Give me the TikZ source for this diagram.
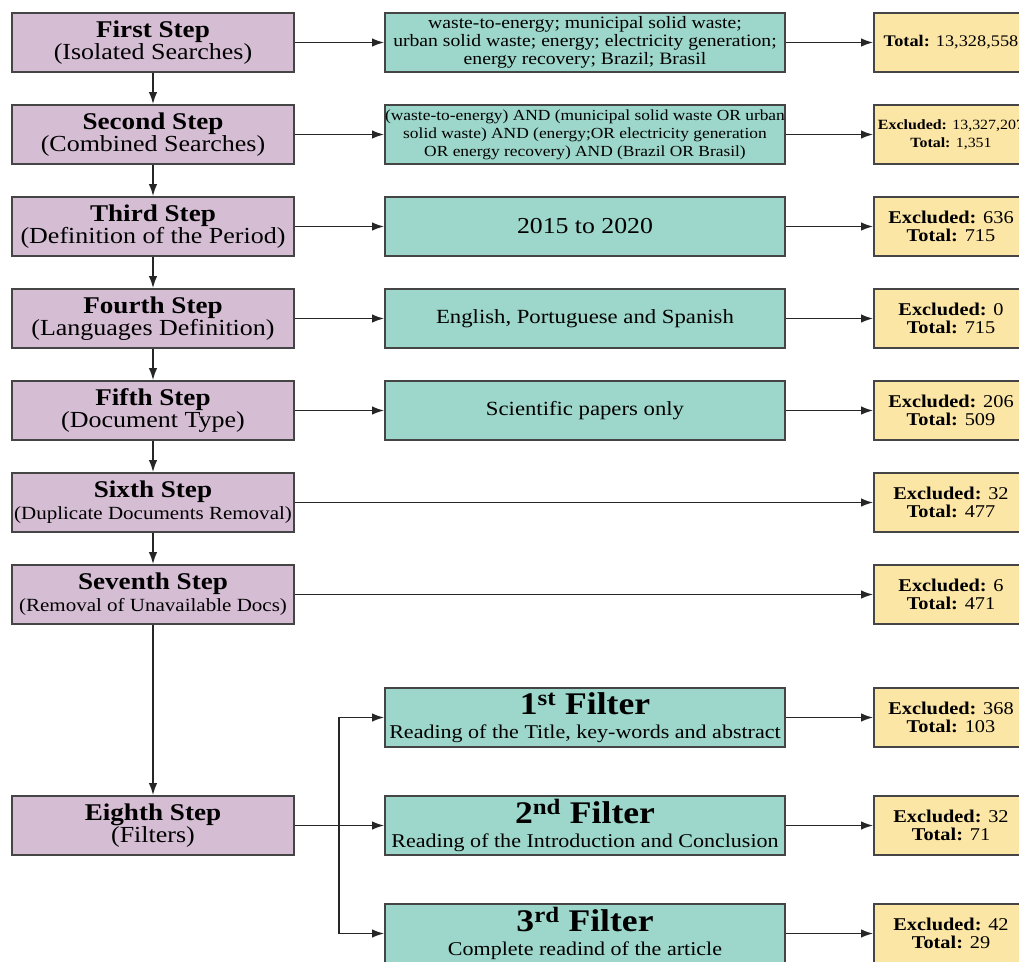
\documentclass[tikz,border=0pt]{standalone}
\usepackage{fontspec}
\setmainfont{Liberation Serif}[FakeStretch=1.13]
\usepackage{xcolor}
\usepackage{tikz}
\usetikzlibrary {positioning}
\usetikzlibrary{arrows.meta}
\definecolor{stepfill}{HTML}{D5BDD4}
\definecolor{queryfill}{HTML}{9DD6CA}
\definecolor{countfill}{HTML}{FCE6A5}
\definecolor{rim}{HTML}{454545}
\tikzset{edge/.style = {->,> = {Latex[length=12pt,width=8.5pt]}, line width=1.5pt, color=black!85}}

\begin{document}
\begin{tikzpicture}[x=1pt,y=-1pt,node distance=92pt,
    box/.style={draw=rim,line width=1.8pt,inner sep=0pt,minimum height=59pt,align=center},
    step node/.style={box,fill=stepfill,minimum width=282pt,font=\fontsize{23}{22}\selectfont},
    query node/.style={box,fill=queryfill,minimum width=400pt},
    count node/.style={box,fill=countfill,minimum width=154pt,font=\fontsize{18}{18}\selectfont},
    filter node/.style={box,fill=queryfill,minimum width=400pt,font=\fontsize{19.5}{24}\selectfont}]
                \useasboundingbox (0,0) rectangle (1019,961);
                \clip (0,0) rectangle (1019,961);

                % steps
                \node[step node] (s1) at (153,42.5) {\textbf{\fontsize{24}{22}\selectfont First Step}\\(Isolated Searches)};
                \node[step node] (s2) [below of=s1] {\textbf{\fontsize{24}{22}\selectfont Second Step}\\(Combined Searches)};
                \node[step node] (s3) [below of=s2] {\textbf{\fontsize{24}{22}\selectfont Third Step}\\(Definition of the Period)};
                \node[step node] (s4) [below of=s3] {\textbf{\fontsize{24}{22}\selectfont Fourth Step}\\(Languages Definition)};
                \node[step node] (s5) [below of=s4] {\textbf{\fontsize{24}{22}\selectfont Fifth Step}\\(Document Type)};
                \node[step node, font=\fontsize{18.6}{22}\selectfont] (s6) [below of=s5] {\textbf{\fontsize{24}{22}\selectfont Sixth Step}\\(Duplicate Documents Removal)};
                \node[step node, font=\fontsize{18.6}{22}\selectfont] (s7) [below of=s6] {\textbf{\fontsize{24}{22}\selectfont Seventh Step}\\(Removal of Unavailable Docs)};
                \node[step node] (s8) [below of=s7, node distance=231pt] {\textbf{\fontsize{24}{22}\selectfont Eighth Step}\\(Filters)};

                % search criteria
                \node[query node, font=\fontsize{17.4}{18}\selectfont] (q1) [right of=s1, node distance=432pt] {waste-to-energy; municipal solid waste;\\urban solid waste; energy; electricity generation;\\energy recovery; Brazil; Brasil};
                \node[query node, font=\fontsize{15.4}{18}\selectfont] (q2) [right of=s2, node distance=432pt] {(waste-to-energy) AND (municipal solid waste OR urban\\solid waste) AND (energy;OR electricity generation\\OR energy recovery) AND (Brazil OR Brasil)};
                \node[query node, font=\fontsize{22.8}{22}\selectfont] (q3) [right of=s3, node distance=432pt] {2015 to 2020};
                \node[query node, font=\fontsize{20.1}{22}\selectfont] (q4) [right of=s4, node distance=432pt] {English, Portuguese and Spanish};
                \node[query node, font=\fontsize{20.1}{22}\selectfont] (q5) [right of=s5, node distance=432pt] {Scientific papers only};

                % filters
                \node[filter node] (f2) [right of=s8, node distance=432pt] {\textbf{\fontsize{31.5}{24}\selectfont 2\textsuperscript{nd} Filter}\\Reading of the Introduction and Conclusion};
                \node[filter node] (f1) [above of=f2, node distance=108pt] {\textbf{\fontsize{31.5}{24}\selectfont 1\textsuperscript{st} Filter}\\Reading of the Title, key-words and abstract};
                \node[filter node] (f3) [below of=f2, node distance=108pt] {\textbf{\fontsize{31.5}{24}\selectfont 3\textsuperscript{rd} Filter}\\Complete readind of the article};
                \node[coordinate, right of=s8, node distance=186pt] (j) {};

                % counts
                \node[count node, font=\fontsize{16.2}{18}\selectfont] (r1) [right of=q1, node distance=366pt] {\textbf{Total:} 13,328,558};
                \node[count node, font=\fontsize{14.1}{17.6}\selectfont] (r2) [right of=q2, node distance=366pt] {\textbf{Excluded:} 13,327,207\\\textbf{Total:} 1,351};
                \node[count node] (r3) [right of=q3, node distance=366pt] {\textbf{Excluded:} 636\\\textbf{Total:} 715};
                \node[count node] (r4) [right of=q4, node distance=366pt] {\textbf{Excluded:} 0\\\textbf{Total:} 715};
                \node[count node] (r5) [right of=q5, node distance=366pt] {\textbf{Excluded:} 206\\\textbf{Total:} 509};
                \node[count node] (r6) [right of=s6, node distance=798pt] {\textbf{Excluded:} 32\\\textbf{Total:} 477};
                \node[count node] (r7) [right of=s7, node distance=798pt] {\textbf{Excluded:} 6\\\textbf{Total:} 471};
                \node[count node] (c1) [right of=f1, node distance=366pt] {\textbf{Excluded:} 368\\\textbf{Total:} 103};
                \node[count node] (c2) [right of=f2, node distance=366pt] {\textbf{Excluded:} 32\\\textbf{Total:} 71};
                \node[count node] (c3) [right of=f3, node distance=366pt] {\textbf{Excluded:} 42\\\textbf{Total:} 29};

                \path[edge]
                    (s1) edge (s2)
                    (s2) edge (s3)
                    (s3) edge (s4)
                    (s4) edge (s5)
                    (s5) edge (s6)
                    (s6) edge (s7)
                    (s7) edge (s8)
                    (s1) edge (q1) (q1) edge (r1)
                    (s2) edge (q2) (q2) edge (r2)
                    (s3) edge (q3) (q3) edge (r3)
                    (s4) edge (q4) (q4) edge (r4)
                    (s5) edge (q5) (q5) edge (r5)
                    (s6) edge (r6)
                    (s7) edge (r7)
                    (s8) edge (f2)
                    (f1) edge (c1)
                    (f2) edge (c2)
                    (f3) edge (c3)
                    ;
                \draw[edge] (j) |- (f1);
                \draw[edge] (j) |- (f3);
            \end{tikzpicture}
\end{document}
